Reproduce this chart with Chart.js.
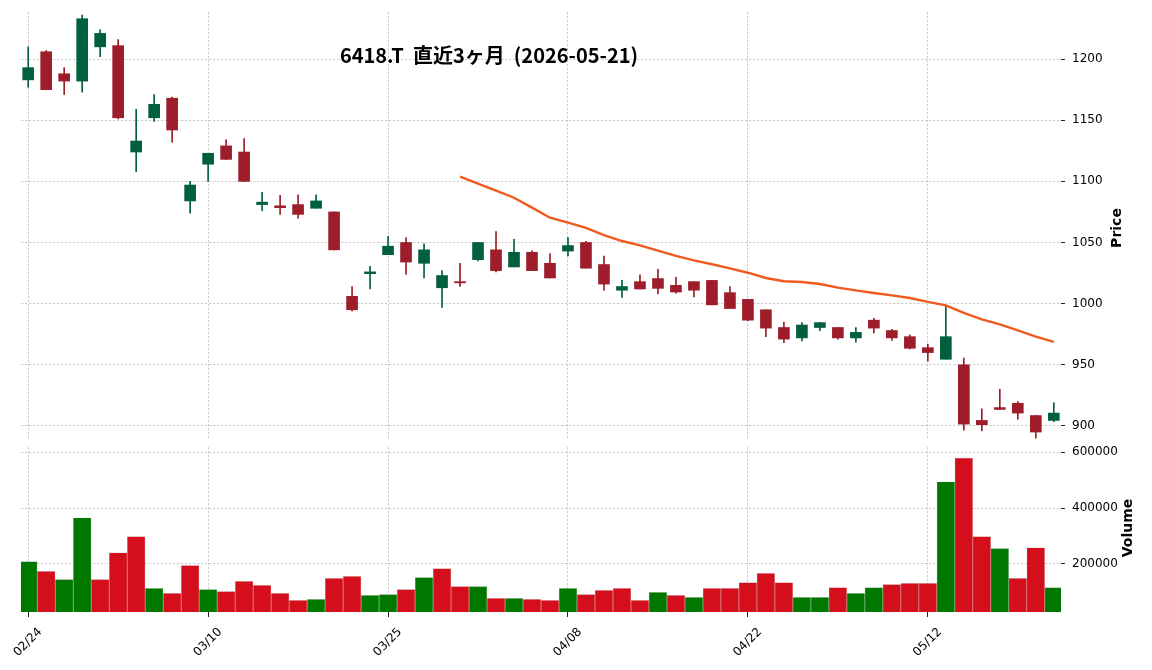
<!DOCTYPE html>
<html>
<head>
<meta charset="utf-8">
<script src="https://cdn.jsdelivr.net/npm/chart.js@4.4.1/dist/chart.umd.min.js"></script>
<style>
  body { margin: 0; background: #fff; }
  #wrap { position: relative; width: 1152px; height: 670px; }
  canvas { position: absolute; left: 0; }
  #priceChart { top: 0; }
  #volumeChart { top: 446px; }
</style>
</head>
<body>
<div id="wrap">
  <canvas id="priceChart" width="1152" height="446"></canvas>
  <canvas id="volumeChart" width="1152" height="224"></canvas>
</div>
<script>
const dates = [
    '02/24', '02/25', '02/26', '02/27', '03/02', '03/03', '03/04', '03/05', '03/06', '03/09',
    '03/10', '03/11', '03/12', '03/13', '03/16', '03/17', '03/18', '03/19', '03/23', '03/24',
    '03/25', '03/26', '03/27', '03/30', '03/31', '04/01', '04/02', '04/03', '04/06', '04/07',
    '04/08', '04/09', '04/10', '04/13', '04/14', '04/15', '04/16', '04/17', '04/20', '04/21',
    '04/22', '04/23', '04/24', '04/27', '04/28', '04/30', '05/01', '05/07', '05/08', '05/11',
    '05/12', '05/13', '05/14', '05/15', '05/18', '05/19', '05/20', '05/21'
];
const opens = [
    1183, 1206, 1188, 1182, 1210, 1211, 1124, 1152, 1168, 1084,
    1114, 1129, 1124, 1081, 1080, 1081, 1078, 1075, 1006, 1024.5,
    1040, 1050, 1033, 1013, 1018, 1036, 1044, 1030, 1042, 1033,
    1043, 1050, 1032, 1011, 1018, 1020.5, 1015, 1018, 1019, 1009,
    1003.5, 995, 980.5, 972, 980.5, 980.5, 972, 986.5, 978, 973,
    964, 954.5, 950, 904.5, 915, 918.5, 908.5, 904.5
];
const highs = [
    1210, 1207, 1193, 1236, 1224, 1216, 1159, 1171, 1169, 1100,
    1123, 1134, 1135, 1091, 1088.5, 1089, 1089, 1075, 1014, 1030.5,
    1055, 1054, 1049, 1027, 1033, 1050, 1059, 1052.5, 1043.5, 1041,
    1054, 1051, 1039, 1019, 1023.5, 1028, 1021.5, 1018, 1019, 1014,
    1003.5, 995, 985, 984.5, 984.5, 980.5, 980.5, 988, 979, 974.5,
    967, 998.5, 955.5, 914, 930, 920, 908.5, 919
];
const lows = [
    1177, 1175, 1171, 1173, 1202, 1151, 1108, 1149, 1132, 1074,
    1100, 1118, 1100, 1076, 1073, 1070, 1078, 1044, 994, 1012,
    1040, 1024, 1021, 997, 1014, 1035, 1026, 1030, 1027, 1021,
    1039, 1029, 1011, 1005, 1012, 1008, 1008.5, 1005.5, 999, 996,
    986, 973, 968, 969.5, 978, 971, 968.5, 976, 970, 963,
    953, 954.5, 896.5, 896, 913.5, 905.5, 890, 903.5
];
const closes = [
    1193, 1175, 1182, 1233, 1221, 1152, 1133, 1163, 1142, 1097,
    1123, 1118, 1100, 1083, 1078.5, 1073, 1084, 1044, 995, 1026,
    1047, 1034, 1044, 1023, 1017, 1050, 1027, 1042, 1027, 1021,
    1047.5, 1029, 1016, 1014, 1012, 1012.5, 1009.5, 1011, 999, 996,
    986.5, 980, 971, 982.5, 984.5, 972, 976.5, 980, 972, 963.5,
    960, 973, 901.5, 901, 913.5, 910.5, 895, 910.5
];
const volumes = [
    208000, 173000, 144000, 365000, 144000, 240000, 298000, 112000, 94000, 194000,
    108000, 101000, 137000, 123000, 94000, 69000, 73000, 148000, 155000, 87000,
    90000, 108000, 151000, 183000, 119000, 119000, 76000, 76000, 73000, 69000,
    112000, 90000, 105000, 112000, 69000, 98000, 87000, 80000, 112000, 112000,
    133000, 166000, 133000, 80000, 80000, 115000, 94000, 115000, 126000, 130000,
    130000, 494000, 580000, 298000, 255000, 148000, 258000, 115000
];
// 25-day moving average, starts at index 24
const maStart = 24;
const ma25 = [
    1103.8, 1098.1, 1092.4, 1086.6, 1078.5, 1070.3, 1066.2, 1061.9, 1056.1, 1051.2,
    1047.7, 1043.3, 1039.0, 1035.4, 1032.2, 1028.9, 1025.3, 1021.0, 1018.3, 1017.7,
    1016.1, 1013.1, 1010.9, 1008.7, 1006.8, 1004.6, 1001.4, 998.6, 992.4, 987.2,
    983.1, 978.2, 973.0, 968.7
];
const priceTicks = [900, 950, 1000, 1050, 1100, 1150, 1200];
const volumeTicks = [200000, 400000, 600000];
const dateTicks = [0, 10, 20, 30, 40, 50];

const UP = '#00603e', DOWN = '#9d1d2a';
const VOL_UP = '#007800', VOL_DOWN = '#d40f1b';
const GRID = '#c2c2c2';

Chart.defaults.font.family = "'DejaVu Sans', sans-serif";
Chart.defaults.font.size = 12;
Chart.defaults.color = '#000';
Chart.defaults.animation = false;

const candleColors = closes.map((c, i) => c >= opens[i] ? UP : DOWN);
const volColors = closes.map((c, i) => (i === 0 || c >= closes[i - 1]) ? VOL_UP : VOL_DOWN);

// draws title and rotated axis titles
const textPlugin = {
    id: 'texts',
    afterDraw(chart, args, opts) {
        const ctx = chart.ctx;
        (opts.items || []).forEach(t => {
            ctx.save();
            ctx.font = t.font;
            ctx.fillStyle = '#000';
            ctx.textAlign = 'center';
            ctx.textBaseline = 'middle';
            ctx.translate(t.x, t.y);
            ctx.rotate(t.rotate || 0);
            ctx.fillText(t.text, 0, 0);
            ctx.restore();
        });
    }
};

function xScale(showLabels) {
    return {
        type: 'linear',
        min: -0.4,
        max: 57.4,
        offset: false,
        afterBuildTicks: s => { s.ticks = dateTicks.map(v => ({ value: v })); },
        afterFit: s => { s.height = showLabels ? 58 : 6; s.paddingLeft = 0; s.paddingRight = 0; },
        grid: { color: GRID, lineWidth: 0.8, offset: false, drawTicks: showLabels, tickLength: 5, tickColor: '#222', tickWidth: 1 },
        border: { display: false, dash: [2.5, 1.5] },
        ticks: {
            display: showLabels,
            autoSkip: false,
            minRotation: 45,
            maxRotation: 45,
            labelOffset: 12,
            padding: 8,
            callback: v => dates[v]
        }
    };
}

function yScale(min, max, ticks) {
    return {
        position: 'right',
        min: min,
        max: max,
        beginAtZero: false,
        afterBuildTicks: s => { s.ticks = ticks.map(v => ({ value: v })); },
        afterFit: s => { s.width = 91; s.paddingTop = 0; s.paddingBottom = 0; },
        grid: { color: GRID, lineWidth: 0.8, drawTicks: true, tickLength: 4, tickColor: '#222', tickWidth: 1 },
        border: { display: false, dash: [2.5, 1.5] },
        ticks: { padding: 7, callback: v => String(v) }
    };
}

new Chart(document.getElementById('priceChart'), {
    type: 'bar',
    data: {
        datasets: [
            {
                type: 'line',
                data: ma25.map((v, k) => ({ x: maStart + k, y: v })),
                borderColor: '#f15a1e',
                borderWidth: 2.4,
                pointRadius: 0,
                tension: 0
            },
            {
                data: opens.map((o, i) => ({ x: i, y: [o, closes[i]] })),
                backgroundColor: candleColors,
                barThickness: 11,
                grouped: false
            },
            {
                data: lows.map((l, i) => ({ x: i, y: [l, highs[i]] })),
                backgroundColor: candleColors,
                barThickness: 1,
                grouped: false
            }
        ]
    },
    options: {
        responsive: false,
        layout: { padding: { left: 21, top: 12, right: 0, bottom: 0 } },
        plugins: {
            legend: { display: false },
            tooltip: { enabled: false },
            texts: {
                items: [
                    { text: '6418.T  直近3ヶ月  (2026-05-21)', x: 489, y: 55, font: "bold 20px 'Noto Sans CJK JP'" },
                    { text: 'Price', x: 1117, y: 228, rotate: -Math.PI / 2, font: "bold 14px 'DejaVu Sans'" }
                ]
            }
        },
        scales: {
            x: xScale(false),
            y: yScale(888.5, 1238.5, priceTicks)
        }
    },
    plugins: [textPlugin]
});

new Chart(document.getElementById('volumeChart'), {
    type: 'bar',
    data: {
        datasets: [{
            data: volumes.map((v, i) => ({ x: i, y: v })),
            backgroundColor: volColors,
            borderColor: 'rgba(0,0,0,0.12)',
            borderWidth: 0.6,
            barPercentage: 1,
            categoryPercentage: 1
        }]
    },
    options: {
        responsive: false,
        layout: { padding: { left: 21, top: 1, right: 0, bottom: 0 } },
        plugins: {
            legend: { display: false },
            tooltip: { enabled: false },
            texts: {
                items: [
                    { text: 'Volume', x: 1128, y: 82, rotate: -Math.PI / 2, font: "bold 14px 'DejaVu Sans'" }
                ]
            }
        },
        scales: {
            x: xScale(true),
            y: yScale(27000, 619000, volumeTicks)
        }
    },
    plugins: [textPlugin]
});
</script>
</body>
</html>
